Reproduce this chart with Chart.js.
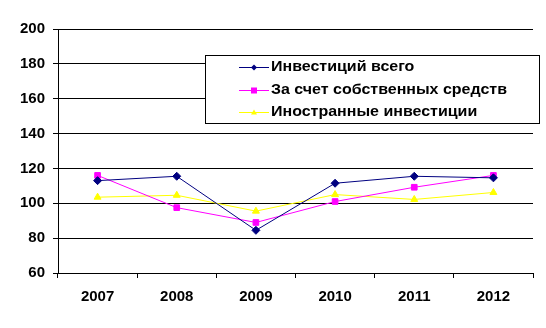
<!DOCTYPE html>
<html>
<head>
<meta charset="utf-8">
<script src="https://cdn.jsdelivr.net/npm/chart.js@4"></script>
<style>
  html, body { margin: 0; padding: 0; background: #fff; }
  #wrap { width: 546px; height: 328px; }
</style>
</head>
<body>
<div id="wrap"><canvas id="invChart"></canvas></div>
<script>
const years = ["2007", "2008", "2009", "2010", "2011", "2012"];
const totalInv = [113, 115.5, 84.5, 111.5, 115.5, 114.6];
const ownFunds = [116, 97.5, 89, 101, 109.2, 116];
const foreignInv = [103.5, 104.6, 95.5, 105, 102.2, 106.2];
const yTicks = [60, 80, 100, 120, 140, 160, 180, 200];

const FONT = "'Liberation Sans', Arial, sans-serif";

// легенда в рамке внутри области графика
const boxLegend = {
  id: "boxLegend",
  afterDraw(chart) {
    const ctx = chart.ctx;
    const x0 = 205, y0 = 55, w = 334, h = 68;
    ctx.save();
    ctx.fillStyle = "#fff";
    ctx.fillRect(x0, y0, w, h);
    ctx.strokeStyle = "#000";
    ctx.lineWidth = 1;
    ctx.strokeRect(x0 + 0.5, y0 + 0.5, w, h);
    const rows = [67, 90, 112];
    ctx.font = "bold 14px " + FONT;
    ctx.textBaseline = "middle";
    // текст немного растянут по ширине
    const sx = 236 / ctx.measureText(chart.data.datasets[1].label).width;
    chart.data.datasets.forEach((ds, i) => {
      const y = rows[i] + 0.5;
      ctx.strokeStyle = ds.borderColor;
      ctx.beginPath();
      ctx.moveTo(239, y);
      ctx.lineTo(269, y);
      ctx.stroke();
      ctx.fillStyle = ds.pointBackgroundColor;
      const s = 3;
      ctx.beginPath();
      if (ds.pointStyle === "rectRot") {
        ctx.moveTo(254, y - s); ctx.lineTo(254 + s, y); ctx.lineTo(254, y + s); ctx.lineTo(254 - s, y);
      } else if (ds.pointStyle === "rect") {
        ctx.rect(254 - s, y - s, 2 * s, 2 * s);
      } else {
        ctx.moveTo(254, y - s); ctx.lineTo(254 + s, y + s - 1); ctx.lineTo(254 - s, y + s - 1);
      }
      ctx.fill();
      ctx.fillStyle = "#000";
      ctx.save();
      ctx.translate(271, y);
      ctx.scale(sx, 1);
      ctx.fillText(ds.label, 0, 0);
      ctx.restore();
    });
    ctx.restore();
  }
};

new Chart(document.getElementById("invChart"), {
  type: "line",
  data: {
    labels: years,
    datasets: [
      {
        label: "Инвестиций всего",
        data: totalInv,
        borderColor: "#000080",
        backgroundColor: "#000080",
        pointBackgroundColor: "#000080",
        pointBorderColor: "#000080",
        pointStyle: "rectRot",
        pointRadius: 4,
        borderWidth: 1
      },
      {
        label: "За счет собственных средств",
        data: ownFunds,
        borderColor: "#ff00ff",
        backgroundColor: "#ff00ff",
        pointBackgroundColor: "#ff00ff",
        pointBorderColor: "#ff00ff",
        pointStyle: "rect",
        pointRadius: 4,
        borderWidth: 1
      },
      {
        label: "Иностранные инвестиции",
        data: foreignInv,
        borderColor: "#ffff00",
        backgroundColor: "#ffff00",
        pointBackgroundColor: "#ffff00",
        pointBorderColor: "#ffff00",
        pointStyle: "triangle",
        pointRadius: 4,
        borderWidth: 1
      }
    ]
  },
  options: {
    responsive: true,
    maintainAspectRatio: false,
    animation: false,
    layout: { padding: { left: 0, right: 13, top: 29, bottom: 0 } },
    scales: {
      x: {
        offset: true,
        grid: {
          offset: true,
          drawOnChartArea: false,
          drawTicks: true,
          tickLength: 5,
          color: "#000"
        },
        border: { color: "#000", width: 1 },
        ticks: {
          color: "#000",
          padding: 10,
          font: { family: FONT, size: 15, weight: "bold" }
        },
        afterFit(scale) { scale.height = 55; }
      },
      y: {
        min: 60,
        max: 200,
        afterBuildTicks(scale) { scale.ticks = yTicks.map(v => ({ value: v })); },
        grid: { color: "#000", tickLength: 5 },
        border: { color: "#000", width: 1 },
        ticks: {
          color: "#000",
          padding: 8,
          font: { family: FONT, size: 15, weight: "bold" }
        },
        afterFit(scale) { scale.width = 58; }
      }
    },
    plugins: {
      legend: { display: false },
      tooltip: { enabled: false }
    }
  },
  plugins: [boxLegend]
});
</script>
</body>
</html>
